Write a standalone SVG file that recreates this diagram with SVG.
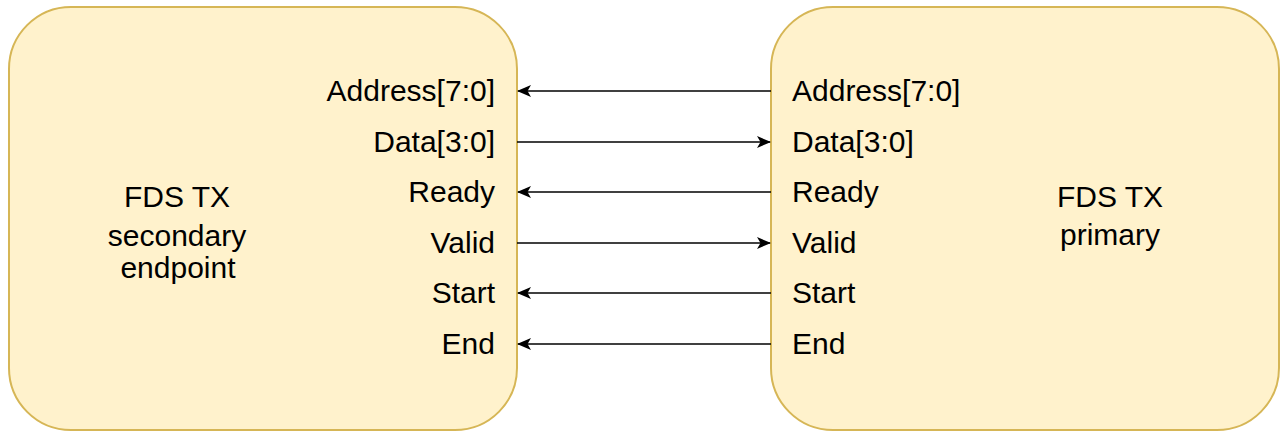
<svg xmlns="http://www.w3.org/2000/svg" width="1281" height="431" viewBox="0 0 1281 431">
<style>
.box{fill:#fff2cc;stroke:#d6b656;stroke-width:2}
text{font-family:"Liberation Sans",Arial,sans-serif;font-size:30px;fill:#000}
.r{text-anchor:end}
.m{text-anchor:middle}
</style>
<defs>
<marker id="ah2" viewBox="0 0 14 12" refX="13" refY="6" markerWidth="14" markerHeight="12" markerUnits="userSpaceOnUse" orient="auto">
<path d="M0,0 L14,6 L0,12 L3.5,6 Z" fill="#000"/>
</marker>
</defs>
<g id="secondary">
<rect class="box" x="9" y="7" width="508" height="423" rx="62" ry="62"/>
<text class="m" x="177" y="207">FDS TX</text>
<text class="m" x="177" y="246">secondary</text>
<text class="m" x="178" y="278">endpoint</text>
<text class="r" x="495" y="101">Address[7:0]</text>
<text class="r" x="495" y="152">Data[3:0]</text>
<text class="r" x="495" y="202">Ready</text>
<text class="r" x="495" y="253">Valid</text>
<text class="r" x="495" y="303">Start</text>
<text class="r" x="495" y="354">End</text>
</g>
<g id="primary">
<rect class="box" x="771" y="7" width="508" height="423" rx="62" ry="62"/>
<text class="m" x="1110" y="207">FDS TX</text>
<text class="m" x="1110" y="245">primary</text>
<text x="792" y="101">Address[7:0]</text>
<text x="792" y="152">Data[3:0]</text>
<text x="792" y="202">Ready</text>
<text x="792" y="253">Valid</text>
<text x="792" y="303">Start</text>
<text x="792" y="354">End</text>
</g>
<g id="connectors" stroke="#000" stroke-width="1.6" fill="none">
<path d="M771,91 L518,91" marker-end="url(#ah2)"/>
<path d="M517,142 L770,142" marker-end="url(#ah2)"/>
<path d="M771,192 L518,192" marker-end="url(#ah2)"/>
<path d="M517,243 L770,243" marker-end="url(#ah2)"/>
<path d="M771,293 L518,293" marker-end="url(#ah2)"/>
<path d="M771,344 L518,344" marker-end="url(#ah2)"/>
</g>
</svg>
